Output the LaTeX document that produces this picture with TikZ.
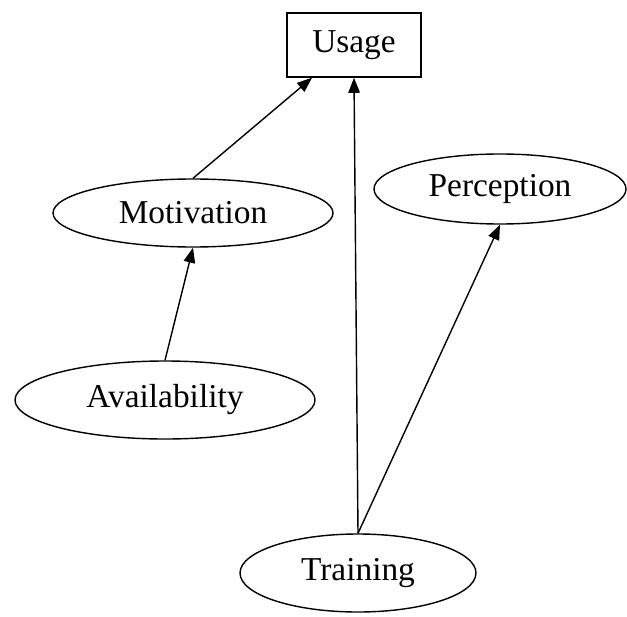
\documentclass[tikz,border=0pt]{standalone}
\usepackage{fontspec}
\setmainfont{Liberation Serif}
\usetikzlibrary{shapes.geometric,arrows.meta}
\begin{document}
\begin{tikzpicture}[
        every node/.style={font=\fontsize{19}{23}\selectfont, inner sep=0pt},
        oval/.style={draw, ellipse, line width=0.8pt},
        box/.style={draw, rectangle, line width=0.9pt},
        link/.style={line width=0.8pt, -{Triangle[length=0.3cm, width=0.23cm]}}
    ]
        % Fix the page size
        \useasboundingbox (0,0) rectangle (12.54,12.32);
    
        % Target box at the top
        \node[box, minimum width=2.68cm, minimum height=1.28cm] (usage) at (7.08,11.42) {Usage};
    
        % Factors as ellipses
        \node[oval, minimum width=5.6cm, minimum height=1.36cm] (motivation) at (3.86,8.06) {Motivation};
        \node[oval, minimum width=5.04cm, minimum height=1.4cm] (perception) at (10.0,8.54) {Perception};
        \node[oval, minimum width=6.0cm, minimum height=1.56cm] (availability) at (3.30,4.32) {Availability};
        \node[oval, minimum width=4.72cm, minimum height=1.56cm] (training) at (7.16,0.86) {Training};
    
        % Arrows between the factors
        \draw[link] (motivation.north) -- (usage.218);
        \draw[link] (availability.north) -- (motivation.south);
        \draw[link] (training.north) -- (usage.south);
        \draw[link] (training.north) -- (perception.south);
    \end{tikzpicture}
\end{document}
